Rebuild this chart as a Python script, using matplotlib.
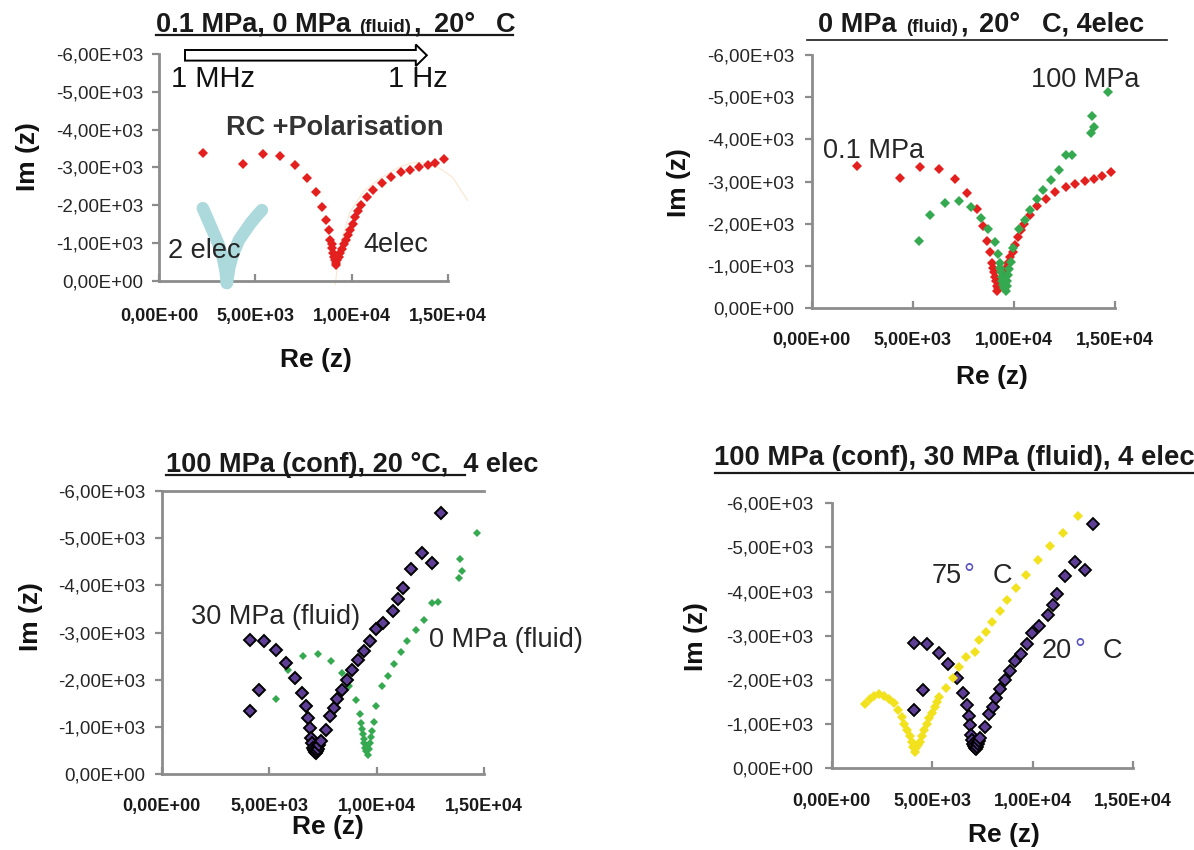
import matplotlib
matplotlib.use("Agg")
import matplotlib.pyplot as plt
from matplotlib.lines import Line2D
from matplotlib.patches import FancyArrow
from matplotlib.transforms import Affine2D

plt.rcParams['font.family'] = ['Liberation Sans', 'DejaVu Sans']

# ---- data (Re(z), Im(z) in ohm) ----
x_ticks = [0, 5000, 10000, 15000]
y_ticks = [0, -1000, -2000, -3000, -4000, -5000, -6000]

# 0.1 MPa, 4 electrodes (red)
re_red = [2262, 4345, 5377, 6290, 7063, 7658, 8155, 8472, 8671, 8810, 8900, 8960, 9008, 9060,
          9110, 9150, 9167, 9200, 9260, 9330, 9405, 9500, 9600, 9702, 9820, 9940, 10060, 10198,
          10340, 10496, 10794, 11131, 11587, 12040, 12579, 13036, 13512, 13968, 14365, 14821]
im_red = [-3376, -3096, -3342, -3307, -3061, -2728, -2351, -1956, -1605, -1342, -1080, -960, -860, -740,
          -640, -540, -421, -480, -560, -640, -728, -850, -960, -1079, -1210, -1342, -1500, -1693,
          -1850, -2000, -2219, -2412, -2588, -2746, -2877, -2939, -3009, -3061, -3123, -3219]

# 0.1 MPa, 2 electrodes (light blue)
re_cyan = [2262, 2460, 2758, 3056, 3313, 3452, 3512, 3651, 3849, 4147, 4444, 4742, 5099, 5337]
im_cyan = [-1920, -1693, -1342, -991, -596, -246, 61, -377, -728, -1079, -1298, -1518, -1737, -1868]

# faint fitted arc, 4 electrodes
re_fit = [9150, 9400, 9900, 10600, 11480, 12520, 13210, 13650, 14500, 15240, 16030]
im_fit = [100, -900, -1800, -2350, -2710, -3017, -3123, -3141, -3000, -2745, -2128]

# 100 MPa conf, 0 MPa fluid, 20 C (green)
re_green = [5298, 5860, 6573, 7264, 7882, 8388, 8708, 9045, 9230, 9290, 9330, 9370, 9400, 9430,
            9460, 9500, 9540, 9607, 9640, 9680, 9720, 9780, 9860, 9978, 10258, 10539, 10820,
            11140, 11438, 11815, 12225, 12562, 12882, 13820, 13966, 13876, 14663]
im_green = [-1591, -2199, -2498, -2537, -2404, -2144, -1868, -1568, -1277, -1080, -950, -850, -750, -650,
            -560, -480, -600, -410, -520, -650, -780, -920, -1100, -1435, -1868, -2088, -2340,
            -2593, -2813, -3050, -3270, -3624, -3641, -4154, -4296, -4563, -5114]

# 100 MPa conf, 30 MPa fluid, 20 C (purple)
re_purple = [4117, 4521, 4117, 4755, 5319, 5798, 6207, 6527, 6723, 6830, 6900, 6950, 7000, 7040,
             7080, 7120, 7165, 7220, 7280, 7330, 7394, 7628, 7840, 8016, 8160, 8372, 8638, 8867,
             9133, 9399, 9702, 9968, 10320, 10766, 10995, 11207, 11617, 12095, 12574, 12979]
im_purple = [-1327, -1772, -2845, -2810, -2619, -2352, -2034, -1716, -1432, -1186, -975, -763, -650, -560,
             -500, -470, -445, -480, -540, -610, -691, -939, -1220, -1398, -1589, -1786, -1998, -2195,
             -2422, -2598, -2810, -3072, -3212, -3466, -3708, -3954, -4343, -4682, -4483, -5530]

# 100 MPa conf, 30 MPa fluid, 75 C (yellow)
re_yellow = [1635, 1900, 2100, 2350, 2600, 2850, 3100, 3300, 3478, 3620, 3760, 3880, 3985, 4060,
             4136, 4200, 4280, 4380, 4490, 4605, 4730, 4850, 4980, 5113, 5230, 5356, 5677, 6015,
             6353, 6674, 7103, 7328, 7666, 7988, 8365, 8737, 9171, 9678, 10242, 10862, 11500, 12255]
im_yellow = [-1448, -1560, -1640, -1674, -1640, -1560, -1470, -1320, -1167, -1010, -866, -730, -602, -480,
             -376, -460, -530, -602, -730, -866, -1000, -1131, -1260, -1394, -1510, -1620, -1810, -2036,
             -2299, -2525, -2638, -2903, -3091, -3317, -3566, -3808, -4072, -4373, -4713, -5029, -5330, -5708]

RED, CYAN, GREEN, PURPLE, YELLOW = '#e3201e', '#abd9dc', '#35a94f', '#5e3f95', '#f2e21e'
AXC = '#8c8c8c'
TXT = '#262626'

W, H = 1194, 850
fig = plt.figure(figsize=(W / 100, H / 100), dpi=100)
fig.patch.set_facecolor('white')
pix = Affine2D().scale(1 / W, -1 / H).translate(0, 1) + fig.transFigure
renderer = fig.canvas.get_renderer()


def sci(v):
    return f"{v:.2E}".replace('.', ',')


def put(x, y, s, size, weight='normal', color=TXT, **kw):
    kw.setdefault('ha', 'left')
    kw.setdefault('va', 'baseline')
    return fig.text(x, y, s, transform=pix, fontsize=size, fontweight=weight, color=color, **kw)


def put_seq(x, y, parts, color='#1a1a1a'):
    # consecutive bold pieces of different size, gap in px before each piece
    for s, size, gap in parts:
        t = put(x + gap, y, s, size, 'bold', color)
        x = t.get_window_extent(renderer).x1
    return x


def hline(x0, x1, y, lw=1.3, color='#1a1a1a'):
    fig.add_artist(Line2D([x0, x1], [y, y], transform=pix, color=color, lw=lw))


def make_axes(box, xpad, ypad, top=False):
    x0, x1, yt, yb = box
    ax = fig.add_axes([x0 / W, 1 - yb / H, (x1 - x0) / W, (yb - yt) / H])
    ax.set_xlim(0, 15000)
    ax.set_ylim(0, -6000)
    ax.set_facecolor('none')
    ax.set_yticks(y_ticks, labels=[sci(v) for v in y_ticks], fontsize=13.5, color=TXT)
    ax.set_xticks(x_ticks, labels=[sci(v) for v in x_ticks], fontsize=13, fontweight='bold',
                  color='#1a1a1a', family=['Liberation Sans Narrow', 'Liberation Sans'])
    ax.tick_params(axis='y', direction='out', length=5, width=1.6, color=AXC, pad=ypad)
    ax.tick_params(axis='x', direction='in', length=5, width=1.6, color=AXC, pad=xpad)
    for side in ['left', 'bottom', 'top', 'right']:
        ax.spines[side].set_color(AXC)
        ax.spines[side].set_linewidth(2)
    ax.spines['right'].set_visible(False)
    ax.spines['top'].set_visible(top)
    return ax


def dots(ax, x, y, color, ms, edge=None, mew=0, z=3):
    ax.plot(x, y, 'D', ls='none', ms=ms, mfc=color, mec=edge if edge else color,
            mew=mew, clip_on=False, zorder=z)


# ---- panel 1: top left ----
ax1 = make_axes((159.3, 447.7, 54, 280.7), xpad=20, ypad=6.5)
ax1.plot(re_fit, im_fit, color='#fce6cf', lw=0.8, clip_on=False, zorder=2)
ax1.plot(re_cyan[:7], im_cyan[:7], color=CYAN, lw=9, solid_capstyle='round', clip_on=False, zorder=3)
ax1.plot([re_cyan[6]] + re_cyan[7:], [im_cyan[6]] + im_cyan[7:], color=CYAN, lw=9,
         solid_capstyle='round', clip_on=False, zorder=3)
dots(ax1, re_cyan, im_cyan, CYAN, 6.5)
dots(ax1, re_red, im_red, RED, 4.7, z=4)

put_seq(155.5, 31.7, [("0.1 MPa, 0 MPa", 19.5, 0), ("(fluid)", 13.5, 9), (",", 19.5, 2),
                      ("20°", 19.5, 13), ("C", 19.5, 21)])
hline(155.5, 513.2, 34.7, lw=1.6)
fig.add_artist(FancyArrow(185, 55.3, 241.8, 0, width=10.6, head_width=21.6, head_length=11,
                          length_includes_head=True, fc='white', ec='black', lw=1.4,
                          transform=pix))
put(170.7, 86.6, "1 MHz", 21, color='#111111')
put(387.6, 86.6, "1 Hz", 21, color='#111111')
put(225.9, 135.4, "RC +Polarisation", 19.5, 'bold', color='#333333')
put(167.7, 258.4, "2 elec", 19.5)
put(362.9, 251.8, "4elec", 19.5)
put(28, 157, "Im (z)", 19, 'bold', color='#111111', rotation=90, ha='center', va='center')
put(316, 360, "Re (z)", 19, 'bold', color='#111111', ha='center', va='center')

# ---- panel 2: top right ----
ax2 = make_axes((811.7, 1115, 55, 308.3), xpad=17.4, ypad=7.7)
dots(ax2, re_red, im_red, RED, 5.0)
dots(ax2, re_green, im_green, GREEN, 5.2, z=4)

put_seq(818.5, 31.7, [("0 MPa", 19.5, 0), ("(fluid)", 13.5, 9), (",", 19.5, 2),
                      ("20°", 19.5, 12), ("C, 4elec", 19.5, 21)])
hline(807, 1166.7, 40, lw=1.2)
put(823.4, 158.3, "0.1 MPa", 19.5)
put(1031, 87.3, "100 MPa", 19.5)
put(678.7, 183, "Im (z)", 19, 'bold', color='#111111', rotation=90, ha='center', va='center')
put(992, 376.7, "Re (z)", 19, 'bold', color='#111111', ha='center', va='center')

# ---- panel 3: bottom left ----
ax3 = make_axes((161.7, 484, 491, 774), xpad=17.4, ypad=6.7, top=True)
dots(ax3, re_green, im_green, GREEN, 4.3)
dots(ax3, re_purple, im_purple, PURPLE, 6.2, edge='black', mew=1.4, z=4)

put(166.3, 472.3, "100 MPa (conf), 20 °C,  4 elec", 19.5, 'bold', color='#1a1a1a')
hline(166.3, 465, 474.8, lw=1.6)
put(191, 624, "30 MPa (fluid)", 19.5)
put(428.8, 647.3, "0 MPa (fluid)", 19.5)
put(31.2, 616.7, "Im (z)", 19, 'bold', color='#111111', rotation=90, ha='center', va='center')
put(328, 826.7, "Re (z)", 19, 'bold', color='#111111', ha='center', va='center')

# ---- panel 4: bottom right ----
ax4 = make_axes((831.7, 1133.3, 503.3, 768.3), xpad=18, ypad=8)
dots(ax4, re_purple, im_purple, PURPLE, 5.8, edge='black', mew=1.3)
dots(ax4, re_yellow, im_yellow, YELLOW, 4.8, z=4)

put(714.5, 465, "100 MPa (conf), 30 MPa (fluid), 4 elec", 19.8, 'bold', color='#1a1a1a')
hline(714.5, 1194, 472.7, lw=1.6)
put(931.9, 582.7, "75", 19.5)
put(963, 582.7, "°", 19.5, color='#5a55c0')
put(992.4, 582.7, "C", 19.5)
put(1041.5, 658.3, "20", 19.5)
put(1074, 658.3, "°", 19.5, color='#5a55c0')
put(1103, 658.3, "C", 19.5)
put(695.6, 636.7, "Im (z)", 19, 'bold', color='#111111', rotation=90, ha='center', va='center')
put(1003.7, 835, "Re (z)", 19, 'bold', color='#111111', ha='center', va='center')

fig.savefig("out.png", dpi=100, facecolor='white')
